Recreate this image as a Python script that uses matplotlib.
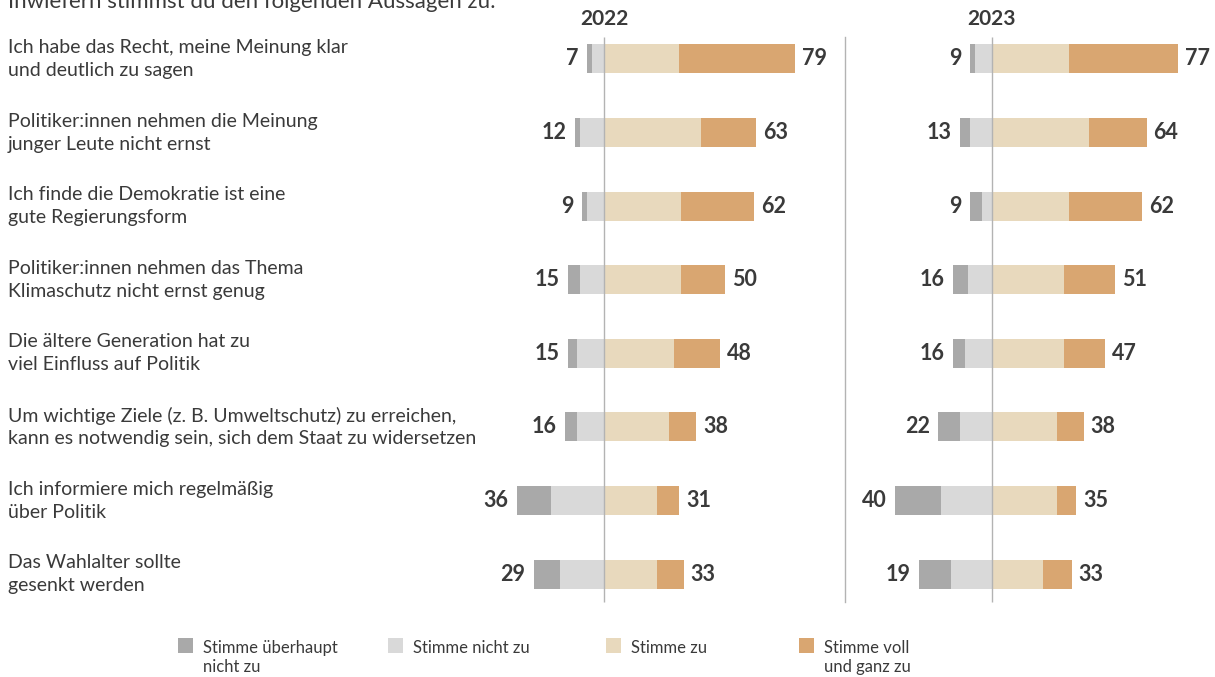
import matplotlib.pyplot as plt
from matplotlib.patches import Rectangle
from matplotlib.transforms import blended_transform_factory

plt.rcParams['font.family'] = ['Lato', 'DejaVu Sans']

title = 'Inwiefern stimmst du den folgenden Aussagen zu:'
categories = [
    'Ich habe das Recht, meine Meinung klar\nund deutlich zu sagen',
    'Politiker:innen nehmen die Meinung\njunger Leute nicht ernst',
    'Ich finde die Demokratie ist eine\ngute Regierungsform',
    'Politiker:innen nehmen das Thema\nKlimaschutz nicht ernst genug',
    'Die ältere Generation hat zu\nviel Einfluss auf Politik',
    'Um wichtige Ziele (z. B. Umweltschutz) zu erreichen,\nkann es notwendig sein, sich dem Staat zu widersetzen',
    'Ich informiere mich regelmäßig\nüber Politik',
    'Das Wahlalter sollte\ngesenkt werden',
]
years = ['2022', '2023']
legend_labels = ['Stimme überhaupt\nnicht zu', 'Stimme nicht zu', 'Stimme zu',
                 'Stimme voll\nund ganz zu']

# 2022
strong_no_22 = [2, 2, 2, 5, 4, 5, 14, 11]
no_22 = [5, 10, 7, 10, 11, 11, 22, 18]
yes_22 = [31, 40, 32, 32, 29, 27, 22, 22]
strong_yes_22 = [48, 23, 30, 18, 19, 11, 9, 11]
neg_labels_22 = [7, 12, 9, 15, 15, 16, 36, 29]
pos_labels_22 = [79, 63, 62, 50, 48, 38, 31, 33]

# 2023
strong_no_23 = [2, 4, 5, 6, 5, 9, 19, 13]
no_23 = [7, 9, 4, 10, 11, 13, 21, 17]
yes_23 = [32, 40, 32, 30, 30, 27, 27, 21]
strong_yes_23 = [45, 24, 30, 21, 17, 11, 8, 12]
neg_labels_23 = [9, 13, 9, 16, 16, 22, 40, 19]
pos_labels_23 = [77, 64, 62, 51, 47, 38, 35, 33]

colors = ['#a9a9a9', '#d9d9d9', '#e8d9bd', '#d9a671']
text_col = '#3a3a3a'

W, H = 1215, 677
fig = plt.figure(figsize=(W / 100, H / 100), dpi=100)

px_per_unit = 2.42
row_top, row_step = 59, 73.6
ax_top, ax_bot = 22, 612


def make_axes(x_left, x_zero, x_right):
    ax = fig.add_axes([x_left / W, 1 - ax_bot / H, (x_right - x_left) / W, (ax_bot - ax_top) / H])
    ax.set_xlim(-(x_zero - x_left) / px_per_unit, (x_right - x_zero) / px_per_unit)
    ax.set_ylim((ax_bot - row_top) / row_step, (ax_top - row_top) / row_step)
    ax.axis('off')
    return ax


ax1 = make_axes(480, 604, 845)
ax2 = make_axes(860, 991.7, 1215)

panels = [
    (ax1, strong_no_22, no_22, yes_22, strong_yes_22, neg_labels_22, pos_labels_22),
    (ax2, strong_no_23, no_23, yes_23, strong_yes_23, neg_labels_23, pos_labels_23),
]

bar_h = 29 / row_step
y = list(range(len(categories)))
line_lo = (37 - row_top) / row_step
line_hi = (602 - row_top) / row_step

for (ax, sn, n, p, sp, nl, pl), year in zip(panels, years):
    ax.vlines(0, line_lo, line_hi, color='#b3b3b3', lw=1, zorder=3)
    left_n = [-a for a in n]
    left_sn = [-(a + b) for a, b in zip(n, sn)]
    ax.barh(y, n, left=left_n, height=bar_h, color=colors[1], lw=0)
    ax.barh(y, sn, left=left_sn, height=bar_h, color=colors[0], lw=0)
    ax.barh(y, p, left=0, height=bar_h, color=colors[2], lw=0)
    ax.barh(y, sp, left=p, height=bar_h, color=colors[3], lw=0)
    for i in y:
        ax.annotate(str(nl[i]), (left_sn[i], i), xytext=(-6, 0), textcoords='offset points',
                    ha='right', va='center', fontsize=15.5, fontweight='bold', color=text_col)
        ax.annotate(str(pl[i]), (p[i] + sp[i], i), xytext=(5, 0), textcoords='offset points',
                    ha='left', va='center', fontsize=15.5, fontweight='bold', color=text_col)
    ax.text(0, (19.5 - row_top) / row_step, year, ha='center', va='center',
            fontsize=15, fontweight='bold', color=text_col)

# separator between the two panels
sep = blended_transform_factory(ax1.transAxes, ax1.transData)
ax1.plot([1, 1], [line_lo, line_hi], color='#b3b3b3', lw=1, transform=sep, clip_on=False)

# category labels
lab_tr = blended_transform_factory(fig.transFigure, ax1.transData)
for i, cat in enumerate(categories):
    ax1.text(8 / W, i, cat, transform=lab_tr, ha='left', va='center',
             fontsize=14, color=text_col, linespacing=1.42)

fig.text(8 / W, 1 - 8 / H, title, ha='left', va='baseline', fontsize=16, color=text_col)

# legend
leg_x = [178, 388, 606, 799]
for xs, lab, col in zip(leg_x, legend_labels, colors):
    fig.patches.append(Rectangle((xs / W, 1 - 653 / H), 15 / W, 15 / H,
                                 transform=fig.transFigure, color=col, lw=0))
    fig.text((xs + 25) / W, 1 - 653 / H, lab.split('\n')[0], ha='left', va='baseline',
             fontsize=12, color=text_col)
    if '\n' in lab:
        fig.text((xs + 25) / W, 1 - 672 / H, lab.split('\n')[1], ha='left', va='baseline',
                 fontsize=12, color=text_col)

fig.savefig('out.png', dpi=100, facecolor='white')
